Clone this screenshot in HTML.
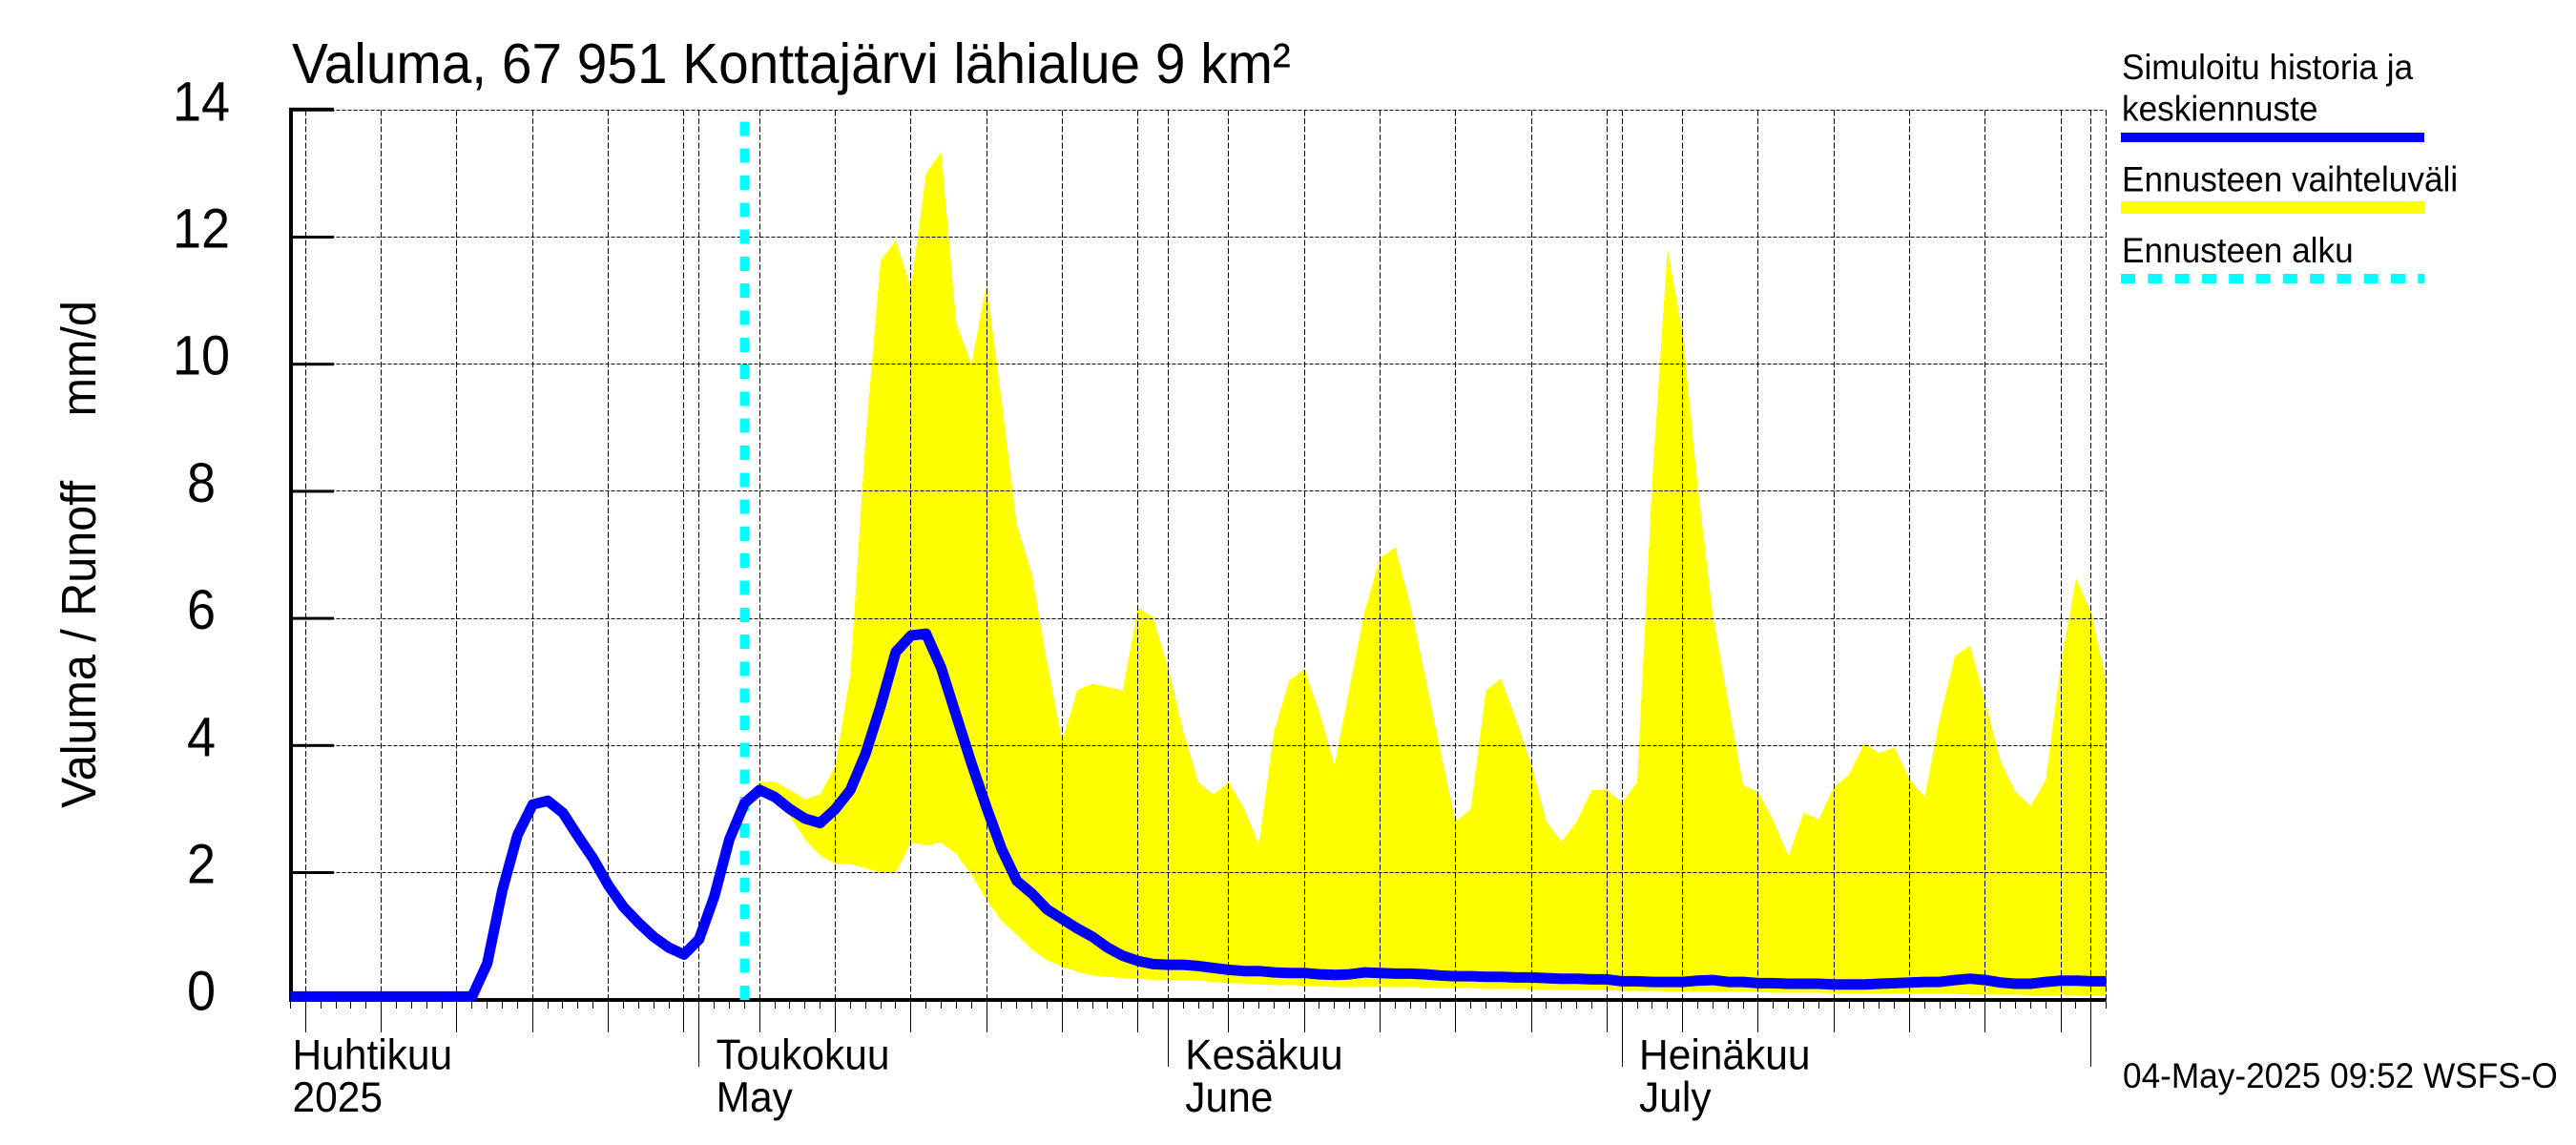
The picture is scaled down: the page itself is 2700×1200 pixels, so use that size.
<!DOCTYPE html>
<html lang="fi">
<head>
<meta charset="utf-8">
<title>Valuma 67 951 Konttajärvi lähialue</title>
<style>
html,body{margin:0;padding:0;background:#fff;}
svg{display:block;}
text{font-family:"Liberation Sans",Arial,sans-serif;fill:#000;}
</style>
</head>
<body>
<svg id="chart" xmlns="http://www.w3.org/2000/svg" width="2700" height="1200" viewBox="0 0 2700 1200">
  <rect x="0" y="0" width="2700" height="1200" fill="#fff"/>
  <g id="band-layer"></g>
  <g id="grid-layer"></g>
  <g id="axis-layer"></g>
  <g id="start-layer"></g>
  <g id="line-layer"></g>
  <g id="label-layer"></g>

  <text transform="translate(306,87) scale(1,1.05)" font-size="56.8">Valuma, 67 951 Konttajärvi lähialue 9 km²</text>
  <text transform="translate(100,847) rotate(-90) scale(1,1.05)" font-size="48.5" xml:space="preserve">Valuma / Runoff     mm/d</text>

  <g>
    <text transform="translate(2224,83) scale(1,1.04)" font-size="35.2">Simuloitu historia ja</text>
    <text transform="translate(2224,126.5) scale(1,1.04)" font-size="35.2">keskiennuste</text>
    <rect x="2223" y="139" width="318" height="10" fill="#0000ff"/>
    <text transform="translate(2224,200.5) scale(1,1.04)" font-size="35.2">Ennusteen vaihteluväli</text>
    <rect x="2223" y="211" width="318" height="13" fill="#ffff00"/>
    <text transform="translate(2224,275) scale(1,1.04)" font-size="35.2">Ennusteen alku</text>
    <line x1="2223" y1="292" x2="2541" y2="292" stroke="#00ffff" stroke-width="10" stroke-dasharray="15 13.3"/>
  </g>

  <text transform="translate(2225,1140) scale(1,1.04)" font-size="35.2">04-May-2025 09:52 WSFS-O</text>
</svg>

<script>
// Chart data: one value per day, day 0 = 4 April 2025
const simulatedRunoff = [
 0.05,0.05,0.05,0.05,0.05,0.05,0.05,0.05,0.05,0.05,0.05,0.05,0.05,
 0.57,1.72,2.59,3.07,3.13,2.94,2.57,2.22,1.80,1.46,1.21,0.99,0.82,0.71,0.95,1.62,2.52,
 3.09,3.30,3.19,3.00,2.85,2.78,3.00,3.30,3.87,4.62,5.47,5.73,5.76,5.22,4.47,3.72,3.02,
 2.37,1.87,1.67,1.42,1.27,1.12,0.99,0.82,0.69,0.61,0.56,0.55,0.55,0.53,0.50,0.47,0.45,
 0.45,0.43,0.42,0.42,0.40,0.39,0.40,0.43,0.42,0.41,0.41,0.40,0.38,0.37,0.37,0.36,0.36,
 0.35,0.35,0.34,0.33,0.33,0.32,0.32,0.29,0.29,0.28,0.28,0.28,0.30,0.31,0.28,0.28,0.26,
 0.26,0.25,0.25,0.25,0.24,0.24,0.24,0.25,0.26,0.27,0.28,0.28,0.31,0.33,0.31,0.27,0.25,
 0.25,0.28,0.30,0.30,0.29,0.29
];
const forecastStartDay = 30;
const rangeUpper = [
 3.09,3.43,3.43,3.30,3.15,3.23,3.67,5.12,8.82,11.63,11.95,11.20,13.00,13.34,10.65,10.00,
 11.27,9.42,7.47,6.70,5.30,4.07,4.87,4.97,4.92,4.87,6.16,6.02,5.22,4.22,3.42,3.23,3.42,
 3.02,2.44,4.22,5.02,5.20,4.52,3.69,4.92,6.12,6.95,7.12,6.22,5.07,3.90,2.80,3.00,4.87,
 5.05,4.40,3.70,2.80,2.49,2.80,3.30,3.30,3.10,3.42,8.20,11.82,10.50,8.07,6.05,4.70,3.37,
 3.27,2.81,2.26,2.94,2.84,3.35,3.54,4.03,3.88,3.97,3.47,3.19,4.42,5.41,5.57,4.70,3.76,
 3.27,3.05,3.46,5.28,6.63,6.09,5.00
];
const rangeLower = [
 3.09,3.20,3.12,2.89,2.52,2.27,2.14,2.13,2.07,2.00,2.00,2.47,2.43,2.47,2.29,1.97,1.57,
 1.24,1.02,0.79,0.62,0.52,0.44,0.38,0.36,0.34,0.33,0.31,0.31,0.30,0.30,0.28,0.26,0.26,
 0.24,0.23,0.23,0.22,0.21,0.20,0.20,0.20,0.20,0.20,0.20,0.19,0.19,0.18,0.18,0.17,0.17,
 0.17,0.16,0.16,0.16,0.15,0.15,0.15,0.14,0.14,0.14,0.13,0.13,0.13,0.12,0.12,0.12,0.12,
 0.11,0.11,0.11,0.11,0.10,0.10,0.10,0.10,0.10,0.09,0.09,0.09,0.09,0.08,0.08,0.08,0.08,
 0.07,0.07,0.07,0.07,0.06,0.06
];
const yTickValues = [0,2,4,6,8,10,12,14];
const fiveDayTicks = [1,6,11,16,21,26,31,36,41,46,51,56,62,67,72,77,82,87,92,97,102,107,112,117];
const monthTickDays = [27,58,88,119];
const monthNamesFi = ['Huhtikuu','Toukokuu','Kesäkuu','Heinäkuu'];
const monthNamesEn = ['2025','May','June','July'];
const monthLabelDays = [0,28,59,89];
const lastDay = 120;

// Axis functions
function xAt(day){ return 304.5 + 15.86 * day; }
function yAt(value){ return 1047.7 - 66.6 * value; }
function snap(p){ return Math.floor(p) + 0.5; }

const NS = 'http://www.w3.org/2000/svg';
function make(tag, attrs, parentId){
  const el = document.createElementNS(NS, tag);
  for (const k in attrs) el.setAttribute(k, attrs[k]);
  document.getElementById(parentId).appendChild(el);
  return el;
}

// Forecast range band
const bandPts = [];
rangeUpper.forEach(function(v, i){ bandPts.push(xAt(forecastStartDay + i).toFixed(1) + ',' + yAt(v).toFixed(1)); });
for (let i = rangeLower.length - 1; i >= 0; i--) bandPts.push(xAt(forecastStartDay + i).toFixed(1) + ',' + yAt(rangeLower[i]).toFixed(1));
const band = make('polygon', {points: bandPts.join(' '), fill: '#ffff00', 'shape-rendering': 'crispEdges'}, 'band-layer');



// Grid
yTickValues.forEach(function(v){
  if (v === 0) return;
  const g = make('line', {x1: xAt(0), x2: xAt(lastDay), y1: snap(yAt(v)), y2: snap(yAt(v)), stroke: '#000', 'stroke-width': 1, 'stroke-dasharray': '4 2', 'shape-rendering': 'crispEdges'}, 'grid-layer');
  
  
});
fiveDayTicks.concat(monthTickDays, [lastDay]).forEach(function(d){
  const g = make('line', {x1: snap(xAt(d)), x2: snap(xAt(d)), y1: yAt(14), y2: yAt(0), stroke: '#000', 'stroke-width': 1, 'stroke-dasharray': '6 2.5', 'shape-rendering': 'crispEdges'}, 'grid-layer');
  
  
});

// Axes
const yAxis = make('rect', {x: 303, y: yAt(14) - 2, width: 4, height: yAt(0) - yAt(14) + 4, fill: '#000'}, 'axis-layer');


const xAxis = make('rect', {x: 303, y: 1046, width: xAt(lastDay) - 303, height: 4, fill: '#000'}, 'axis-layer');



yTickValues.forEach(function(v){
  const t = make('rect', {x: 303, y: yAt(v) - (v === 14 ? 2.5 : 1.5), width: 47, height: v === 14 ? 4 : 3, fill: '#000'}, 'axis-layer');
  
  
  const l = make('text', {transform: 'translate(211,' + (yAt(v) + 11) + ') scale(1,1.08)', 'font-size': 54, 'text-anchor': 'middle'}, 'label-layer');
  
  
  l.textContent = String(v);
});

for (let d = 0; d <= lastDay; d++){
  let bottom = 1057;
  if (fiveDayTicks.indexOf(d) >= 0) bottom = 1082;
  if (monthTickDays.indexOf(d) >= 0) bottom = 1118;
  const t = make('line', {x1: snap(xAt(d)), x2: snap(xAt(d)), y1: 1050, y2: bottom, stroke: '#000', 'stroke-width': 1, 'shape-rendering': 'crispEdges'}, 'axis-layer');
  
  
}

monthNamesFi.forEach(function(name, i){
  const px = xAt(monthLabelDays[i]) + 2;
  const a = make('text', {transform: 'translate(' + px + ',1120.5) scale(1,1.05)', 'font-size': 42.5}, 'label-layer');
  
  
  a.textContent = name;
  const b = make('text', {transform: 'translate(' + px + ',1165) scale(1,1.05)', 'font-size': 42.5}, 'label-layer');
  
  
  b.textContent = monthNamesEn[i];
});

// Forecast start marker
const startLine = make('line', {x1: xAt(forecastStartDay), x2: xAt(forecastStartDay), y1: 1048, y2: 127, stroke: '#00ffff', 'stroke-width': 10, 'stroke-dasharray': '15 13.3', 'shape-rendering': 'crispEdges'}, 'start-layer');



// Simulated runoff line
const linePts = simulatedRunoff.map(function(v, i){ return xAt(i).toFixed(1) + ',' + yAt(v).toFixed(1); }).join(' ');
const runoff = make('polyline', {points: linePts, fill: 'none', stroke: '#0000ff', 'stroke-width': 11, 'stroke-linejoin': 'round', 'stroke-linecap': 'butt'}, 'line-layer');


</script>
</body>
</html>
